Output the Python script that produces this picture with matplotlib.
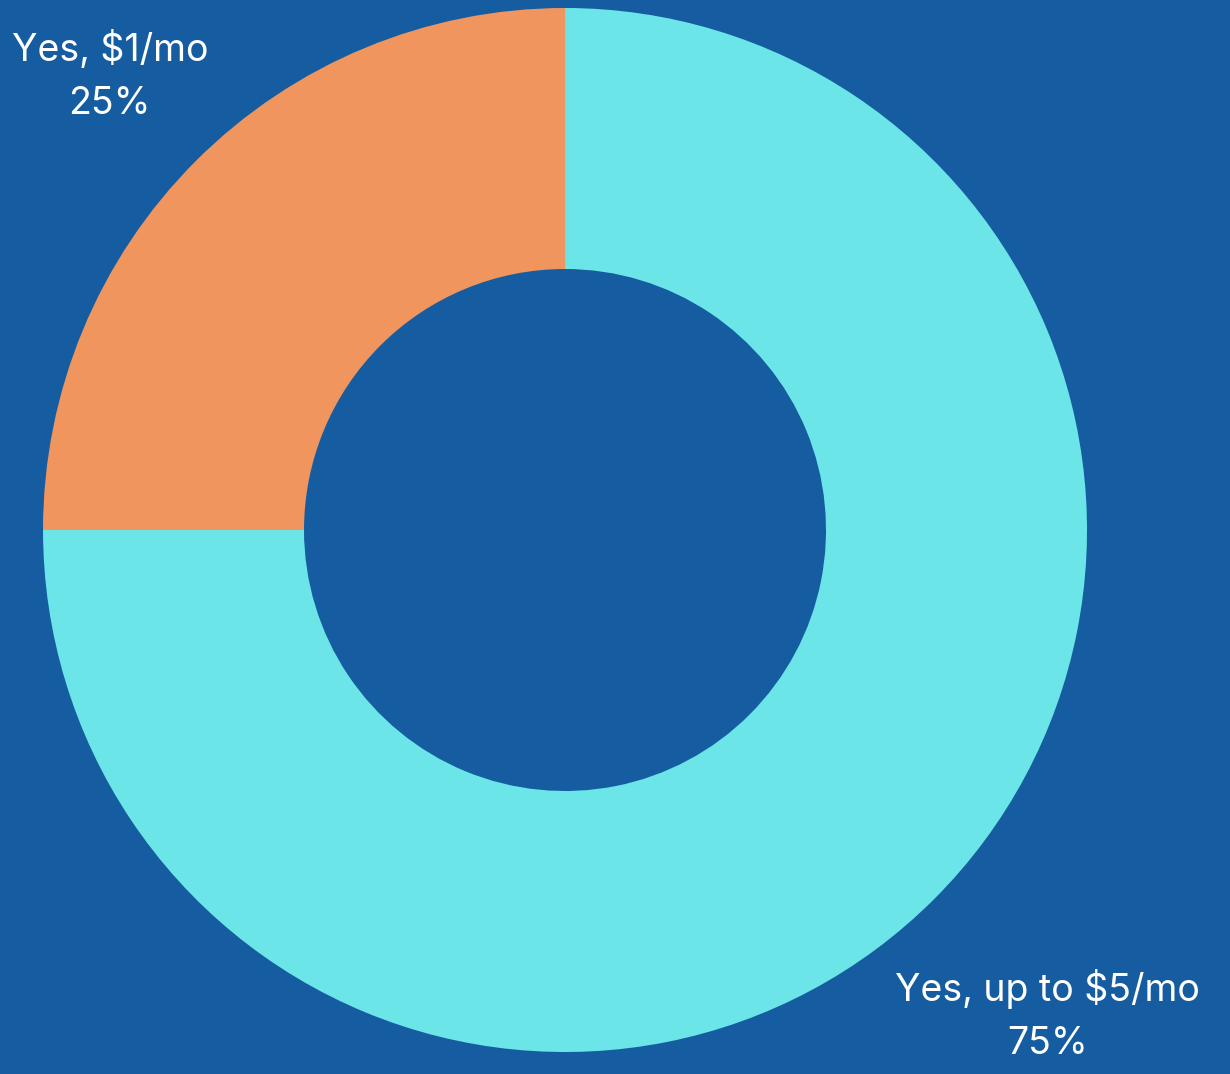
import matplotlib.pyplot as plt

# Survey answers
labels = ["Yes, up to $5/mo", "Yes, $1/mo"]
shares = [75, 25]
colors = ["#6be5e8", "#f0955e"]
bg = "#155da0"

plt.rcParams['font.family'] = ['Inter', 'DejaVu Sans']

fig = plt.figure(figsize=(12.3, 10.74), dpi=100, facecolor=bg)
ax = fig.add_axes([0, 0, 1, 1])
ax.set_facecolor(bg)

ax.pie(shares, colors=colors, startangle=90, counterclock=False,
       radius=1.0, wedgeprops=dict(width=0.5, linewidth=0))

ax.set_aspect('equal')
ax.set_xlim(-1.0824, 1.2739)
ax.set_ylim(-1.0421, 1.0153)
ax.axis('off')

# labels outside the ring
label_pos = [(0.925, -0.930), (-0.872, 0.870)]
for name, val, (x, y) in zip(labels, shares, label_pos):
    ax.text(x, y, f"{name}\n{val}%", ha='center', va='center',
            color='white', fontsize=27, linespacing=1.6)

fig.savefig("out.png", dpi=100, facecolor=bg)
